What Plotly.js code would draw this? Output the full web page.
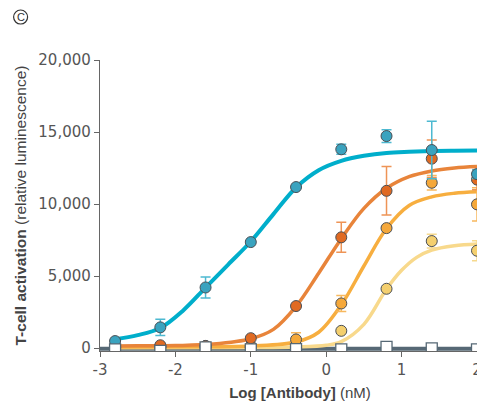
<!DOCTYPE html>
<html>
<head>
<meta charset="utf-8">
<script src="https://cdn.plot.ly/plotly-3.0.1.min.js"></script>
<style>
html,body{margin:0;padding:0;background:#fff;overflow:hidden;width:477px;height:402px;}
#chart{width:520px;height:402px;}
</style>
</head>
<body>
<div id="chart"></div>
<script>
// Measured concentrations (log nM)
const doses = [-2.8, -2.2, -1.6, -1.0, -0.4, 0.2, 0.8, 1.4, 2.0];

// Data points (relative luminescence) and error bars
const cyanPts   = [490, 1440, 4210, 7360, 11180, 13800, 14720, 13750, 12080];
const cyanErr   = [0, 560, 730, 0, 0, 350, 440, 2000, 300];
const orangePts = [150, 200, 150, 690, 2920, 7690, 10920, 13150, 11700];
const orangeErr = [0, 0, 0, 0, 0, 1040, 1680, 1300, 700];
const amberPts  = [80, 100, 150, 150, 600, 3100, 8330, 11480, 9980];
const amberErr  = [0, 0, 250, 0, 460, 560, 0, 500, 1150];
const palePts   = [50, 50, 50, 50, 60, 1200, 4120, 7430, 6760];
const paleErr   = [0, 0, 0, 0, 0, 0, 0, 480, 700];
const ctrlPts   = [-90, -190, 50, -90, -70, -90, 90, -20, -90];

// Fitted curves
const cyanCurveX   = [-2.8, -2.5, -2.2, -1.9, -1.6, -1.3, -1.0, -0.7, -0.4, -0.1, 0.2, 0.5, 0.8, 1.1, 1.4, 1.7, 2.0];
const cyanCurveY   = [620, 900, 1400, 2600, 4200, 5800, 7400, 9300, 11150, 12350, 13000, 13350, 13550, 13630, 13680, 13700, 13710];
const orangeCurveX = [-2.8, -2.5, -2.0, -1.5, -1.0, -0.7, -0.4, -0.1, 0.2, 0.5, 0.8, 1.1, 1.4, 1.7, 2.0];
const orangeCurveY = [150, 160, 180, 280, 650, 1300, 2900, 5200, 7600, 9700, 11100, 11900, 12300, 12500, 12600];
const amberCurveX  = [-2.8, -2.0, -1.0, -0.4, -0.1, 0.2, 0.5, 0.8, 1.1, 1.4, 1.7, 2.0];
const amberCurveY  = [80, 90, 150, 420, 1100, 3000, 5700, 8300, 9900, 10500, 10750, 10850];
const paleCurveX   = [-2.8, -1.0, -0.4, 0.0, 0.2, 0.5, 0.8, 1.0, 1.2, 1.4, 1.7, 2.0];
const paleCurveY   = [30, 40, 80, 200, 450, 1650, 4100, 5400, 6300, 6800, 7100, 7220];
const ctrlCurveX   = [-3.0, -2.0, -1.0, 0.0, 1.0, 2.0, 2.3];
const ctrlCurveY   = [-40, -40, -40, -40, -40, -40, -40];

const xTicks = [-3, -2, -1, 0, 1, 2];
const yTicks = [0, 5000, 10000, 15000, 20000];
const yTickText = ['0', '5,000', '10,000', '15,000', '20,000'];

const C = {
  cyanLine: '#00AECB', cyanPt: '#3AA3BF', cyanErr: '#4DB9D1',
  orangeLine: '#E8843A', orangePt: '#E06A22', orangeErr: '#EE9456',
  amberLine: '#F7AE3F', amberPt: '#F5A83A', amberErr: '#F7B85E',
  paleLine: '#F8D98C', palePt: '#F4CF6E', paleErr: '#F6D98E',
  ctrl: '#566875', edge: '#4A4F55'
};

function curve(x, y, color, w) {
  return {x: x, y: y, type: 'scatter', mode: 'lines', hoverinfo: 'skip',
    line: {color: color, width: w, shape: 'spline', smoothing: 1}, showlegend: false};
}
function pts(y, err, fill, errColor) {
  return {x: doses, y: y, type: 'scatter', mode: 'markers', showlegend: false,
    marker: {color: fill, size: 11, line: {color: C.edge, width: 1}},
    error_y: {type: 'data', array: err, visible: true, color: errColor, thickness: 1.5, width: 5}};
}

const traces = [
  curve(ctrlCurveX, ctrlCurveY, C.ctrl, 4),
  curve(paleCurveX, paleCurveY, C.paleLine, 3.5),
  curve(amberCurveX, amberCurveY, C.amberLine, 3.5),
  curve(orangeCurveX, orangeCurveY, C.orangeLine, 3.5),
  curve(cyanCurveX, cyanCurveY, C.cyanLine, 4),
  pts(palePts, paleErr, C.palePt, C.paleErr),
  pts(amberPts, amberErr, C.amberPt, C.amberErr),
  pts(orangePts, orangeErr, C.orangePt, C.orangeErr),
  pts(cyanPts, cyanErr, C.cyanPt, C.cyanErr),
  {x: doses, y: ctrlPts, type: 'scatter', mode: 'markers', showlegend: false,
   marker: {symbol: 'square', color: '#FFFFFF', size: 11, line: {color: C.ctrl, width: 1.3}}}
];

const tickFont = {family: 'DejaVu Sans', size: 15, color: '#555555'};
const layout = {
  width: 520, height: 402,
  margin: {l: 100, r: 20, t: 60, b: 51, pad: 0},
  paper_bgcolor: '#FFFFFF', plot_bgcolor: '#FFFFFF',
  showlegend: false,
  xaxis: {
    range: [-3, 2.305], tickvals: xTicks, ticktext: xTicks.map(String),
    showgrid: false, zeroline: false, showline: true, linecolor: '#666666', linewidth: 1.2,
    ticks: 'outside', ticklen: 5, tickcolor: '#666666', tickfont: tickFont,
    title: {text: '<b>Log [Antibody]</b> (nM)', standoff: 9,
      font: {family: 'Liberation Sans', size: 15, color: '#444444'}}
  },
  yaxis: {
    range: [-200, 20000], tickvals: yTicks, ticktext: yTickText,
    showgrid: false, zeroline: false, showline: true, linecolor: '#666666', linewidth: 1.2,
    ticks: 'outside', ticklen: 5, tickcolor: '#666666', tickfont: tickFont,
    title: {text: '<b>T-cell activation</b> (relative luminescence)', standoff: 7,
      font: {family: 'Liberation Sans', size: 15.5, color: '#444444'}}
  },
  shapes: [{
    type: 'circle', xref: 'paper', yref: 'paper',
    x0: -0.216, x1: -0.181, y0: 1.1237, y1: 1.1718,
    line: {color: '#333333', width: 1.2}, fillcolor: 'rgba(0,0,0,0)'
  }],
  annotations: [{
    text: 'C', xref: 'paper', yref: 'paper', x: -0.1987, y: 1.1478,
    xanchor: 'center', yanchor: 'middle', showarrow: false,
    font: {family: 'Liberation Sans', size: 11, color: '#333333'}
  }]
};

Plotly.newPlot('chart', traces, layout, {displayModeBar: false, staticPlot: true});
</script>
</body>
</html>
